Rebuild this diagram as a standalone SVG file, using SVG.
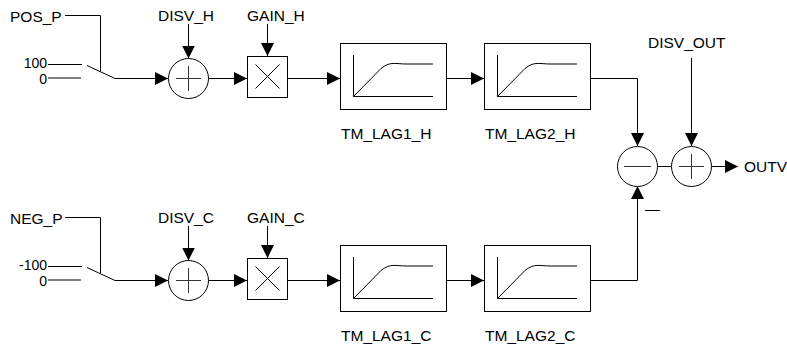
<svg xmlns="http://www.w3.org/2000/svg" width="787" height="349" viewBox="0 0 787 349">
<style>
text{font-family:"Liberation Sans",Arial,sans-serif;font-size:15.5px;fill:#000}
.num{font-size:14px}
.ln{fill:none;stroke:#000;stroke-width:1}
.sh{fill:#fff;stroke:#000;stroke-width:1}
.sg{fill:none;stroke:#333;stroke-width:1}
</style>
<defs>
<marker id="ah" markerUnits="userSpaceOnUse" markerWidth="13" markerHeight="13" refX="13" refY="6.5" orient="auto">
<path d="M0,0L13,6.5L0,13z" fill="#000"/>
</marker>
</defs>
<g id="connectors">
<path class="ln" d="M65,15.5H100.5V71.5"/>
<path class="ln" d="M48,64.5H82M48,78H81"/>
<path class="ln" d="M87,65.5L115,78.5H168" marker-end="url(#ah)"/>
<path class="ln" d="M188.5,24V58.5" marker-end="url(#ah)"/>
<path class="ln" d="M208,78.5H247" marker-end="url(#ah)"/>
<path class="ln" d="M267.5,24V56" marker-end="url(#ah)"/>
<path class="ln" d="M288,78.5H340" marker-end="url(#ah)"/>
<path class="ln" d="M447,78.5H484" marker-end="url(#ah)"/>
<path class="ln" d="M591,78.5H637.5V146" marker-end="url(#ah)"/>
<path class="ln" d="M65,217.5H100.5V273.5"/>
<path class="ln" d="M48,266.5H82M48,280H81"/>
<path class="ln" d="M87,267.5L115,280.5H168" marker-end="url(#ah)"/>
<path class="ln" d="M188.5,226V260.5" marker-end="url(#ah)"/>
<path class="ln" d="M208,280.5H247" marker-end="url(#ah)"/>
<path class="ln" d="M267.5,226V258" marker-end="url(#ah)"/>
<path class="ln" d="M288,280.5H340" marker-end="url(#ah)"/>
<path class="ln" d="M447,280.5H484" marker-end="url(#ah)"/>
<path class="ln" d="M591,280.5H637.5V186" marker-end="url(#ah)"/>
<path class="ln" d="M657,166.5H671"/>
<path class="ln" d="M691.5,58V146" marker-end="url(#ah)"/>
<path class="ln" d="M711,166.5H738" marker-end="url(#ah)"/>
</g>
<g id="labels">
<text x="10" y="22">POS_P</text>
<text class="num" x="47" y="68" text-anchor="end">100</text>
<text class="num" x="47" y="84" text-anchor="end">0</text>
<text x="10" y="224">NEG_P</text>
<text class="num" x="47" y="270" text-anchor="end">-100</text>
<text class="num" x="47" y="286" text-anchor="end">0</text>
<text x="158" y="21">DISV_H</text>
<text x="247" y="21">GAIN_H</text>
<text x="158" y="223">DISV_C</text>
<text x="247" y="223">GAIN_C</text>
<text x="648" y="48">DISV_OUT</text>
<text x="744" y="171.5">OUTV</text>
<text x="645" y="214" style="font-size:15px">—</text>
</g>
<g id="sum_h">
<circle class="sh" cx="188.5" cy="78.5" r="20"/>
<path class="sg" d="M176,78.5H201M188.5,66V91"/>
</g>
<g id="mul_h">
<rect class="sh" x="247.5" y="56.5" width="40" height="41"/>
<path class="ln" d="M255.5,64.5L279.5,88.5M279.5,64.5L255.5,88.5"/>
</g>
<g id="lag1_h">
<rect class="sh" x="340.5" y="43.5" width="106" height="66"/>
<path class="ln" d="M353.5,55V96.5H433M353.5,96.5L381,68.5C390,61 396,64 406,64H433"/>
<text x="341" y="139">TM_LAG1_H</text>
</g>
<g id="lag2_h">
<rect class="sh" x="484.5" y="43.5" width="106" height="66"/>
<path class="ln" d="M497.5,55V96.5H577M497.5,96.5L525,68.5C534,61 540,64 550,64H577"/>
<text x="485" y="139">TM_LAG2_H</text>
</g>
<g id="sum_c">
<circle class="sh" cx="188.5" cy="280.5" r="20"/>
<path class="sg" d="M176,280.5H201M188.5,268V293"/>
</g>
<g id="mul_c">
<rect class="sh" x="247.5" y="258.5" width="40" height="41"/>
<path class="ln" d="M255.5,266.5L279.5,290.5M279.5,266.5L255.5,290.5"/>
</g>
<g id="lag1_c">
<rect class="sh" x="340.5" y="245.5" width="106" height="66"/>
<path class="ln" d="M353.5,257V298.5H433M353.5,298.5L381,270.5C390,263 396,266 406,266H433"/>
<text x="341" y="341">TM_LAG1_C</text>
</g>
<g id="lag2_c">
<rect class="sh" x="484.5" y="245.5" width="106" height="66"/>
<path class="ln" d="M497.5,257V298.5H577M497.5,298.5L525,270.5C534,263 540,266 550,266H577"/>
<text x="485" y="341">TM_LAG2_C</text>
</g>
<g id="sub">
<circle class="sh" cx="637.5" cy="166.5" r="20"/>
<path class="sg" d="M624,166.5H651"/>
</g>
<g id="sum_out">
<circle class="sh" cx="691.5" cy="166.5" r="20"/>
<path class="sg" d="M679,166.5H704M691.5,154V179"/>
</g>
</svg>
